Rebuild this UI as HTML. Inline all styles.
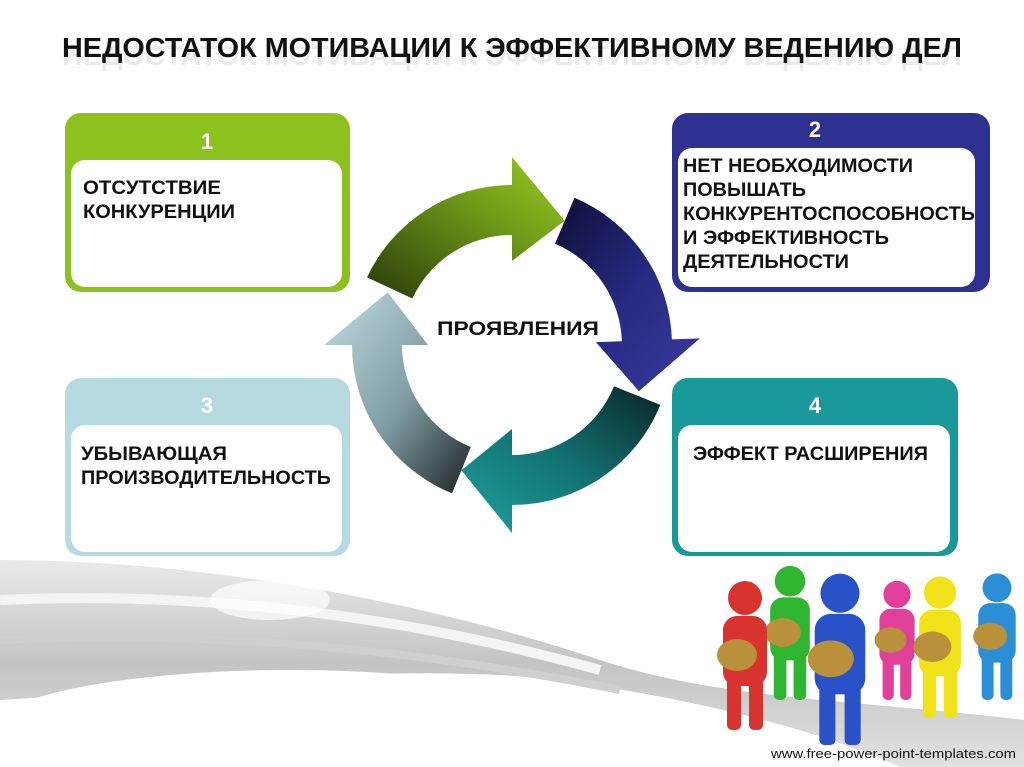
<!DOCTYPE html>
<html><head><meta charset="utf-8"><style>
html,body{margin:0;padding:0;background:#fff;}
svg{display:block;}
text{font-family:"Liberation Sans",sans-serif;font-weight:bold;}
</style></head><body>
<svg id="s" width="1024" height="767" viewBox="0 0 1024 767" xmlns="http://www.w3.org/2000/svg">
<defs>
<linearGradient id="sw" x1="0" y1="0" x2="0" y2="1">
<stop offset="0" stop-color="#e6e6e6"/><stop offset="0.5" stop-color="#b9b9b9"/><stop offset="1" stop-color="#dcdcdc"/></linearGradient>
<linearGradient id="gG" x1="0" y1="1" x2="1" y2="0"><stop offset="0" stop-color="#2a3a0a"/><stop offset="0.6" stop-color="#6e9a18"/><stop offset="1" stop-color="#9ccc22"/></linearGradient>
<linearGradient id="gB" x1="0" y1="0" x2="1" y2="1"><stop offset="0" stop-color="#0d0d35"/><stop offset="0.5" stop-color="#262a80"/><stop offset="1" stop-color="#3a3aa0"/></linearGradient>
<linearGradient id="gT" x1="1" y1="0" x2="0" y2="1"><stop offset="0" stop-color="#0a2424"/><stop offset="0.5" stop-color="#137272"/><stop offset="1" stop-color="#1fa0a0"/></linearGradient>
<linearGradient id="gL" x1="0" y1="0" x2="1" y2="1"><stop offset="0" stop-color="#c2dde2"/><stop offset="0.55" stop-color="#7e9ca2"/><stop offset="1" stop-color="#1d2224"/></linearGradient>
</defs>
<path d="M0,560 C200,560 420,600 600,660 C720,700 860,700 1024,720 L1024,767 L900,767 C820,730 700,700 560,680 C380,660 180,690 0,700 Z" fill="url(#sw)" opacity="0.85"/>
<path d="M0,600 C220,590 420,620 600,670" stroke="#f4f4f4" stroke-width="10" fill="none"/>
<path d="M0,640 C220,630 420,650 620,690" stroke="#cfcfcf" stroke-width="8" fill="none"/>
<ellipse cx="290" cy="730" rx="300" ry="60" fill="#fff"/>
<ellipse cx="270" cy="600" rx="60" ry="20" fill="#fff" opacity="0.7"/>

<text x="62" y="60" font-size="28" textLength="900" lengthAdjust="spacingAndGlyphs" fill="#111" opacity="0.08" transform="translate(0,5)">НЕДОСТАТОК МОТИВАЦИИ К ЭФФЕКТИВНОМУ ВЕДЕНИЮ ДЕЛ</text>
<text x="62" y="57" font-size="28" textLength="900" lengthAdjust="spacingAndGlyphs" fill="#111">НЕДОСТАТОК МОТИВАЦИИ К ЭФФЕКТИВНОМУ ВЕДЕНИЮ ДЕЛ</text>

<g id="arrows"></g>

<rect x="65" y="113" width="285" height="179" rx="16" fill="#8cc21e"/>
<rect x="71" y="160" width="271" height="127" rx="14" fill="#fff"/>
<text x="207" y="149" font-size="22" fill="#fff" text-anchor="middle">1</text>
<text x="83" y="194" font-size="19" fill="#111" textLength="138" lengthAdjust="spacingAndGlyphs">ОТСУТСТВИЕ</text>
<text x="83" y="218" font-size="19" fill="#111" textLength="152" lengthAdjust="spacingAndGlyphs">КОНКУРЕНЦИИ</text>

<rect x="672" y="113" width="318" height="179" rx="16" fill="#2e3192"/>
<rect x="678" y="148" width="297" height="139" rx="14" fill="#fff"/>
<text x="815" y="137" font-size="22" fill="#fff" text-anchor="middle">2</text>
<text x="683" y="172" font-size="19" fill="#111" textLength="230" lengthAdjust="spacingAndGlyphs">НЕТ НЕОБХОДИМОСТИ</text>
<text x="683" y="196" font-size="19" fill="#111" textLength="123" lengthAdjust="spacingAndGlyphs">ПОВЫШАТЬ</text>
<text x="683" y="220" font-size="19" fill="#111" textLength="292" lengthAdjust="spacingAndGlyphs">КОНКУРЕНТОСПОСОБНОСТЬ</text>
<text x="683" y="244" font-size="19" fill="#111" textLength="206" lengthAdjust="spacingAndGlyphs">И ЭФФЕКТИВНОСТЬ</text>
<text x="683" y="268" font-size="19" fill="#111" textLength="166" lengthAdjust="spacingAndGlyphs">ДЕЯТЕЛЬНОСТИ</text>

<rect x="65" y="378" width="285" height="178" rx="16" fill="#b5dbe1"/>
<rect x="71" y="425" width="271" height="127" rx="14" fill="#fff"/>
<text x="207" y="413" font-size="22" fill="#fff" text-anchor="middle">3</text>
<text x="81" y="460" font-size="19" fill="#111" textLength="146" lengthAdjust="spacingAndGlyphs">УБЫВАЮЩАЯ</text>
<text x="81" y="484" font-size="19" fill="#111" textLength="250" lengthAdjust="spacingAndGlyphs">ПРОИЗВОДИТЕЛЬНОСТЬ</text>

<rect x="672" y="378" width="286" height="178" rx="16" fill="#19999a"/>
<rect x="678" y="425" width="272" height="127" rx="14" fill="#fff"/>
<text x="815" y="413" font-size="22" fill="#fff" text-anchor="middle">4</text>
<text x="693" y="460" font-size="19" fill="#111" textLength="235" lengthAdjust="spacingAndGlyphs">ЭФФЕКТ РАСШИРЕНИЯ</text>

<g id="arrows2"></g>
<text x="437" y="335" font-size="19" fill="#111" textLength="162" lengthAdjust="spacingAndGlyphs">ПРОЯВЛЕНИЯ</text>

<g id="ppl"></g>
<text x="1016" y="758" font-size="13" style="font-weight:normal" fill="#111" text-anchor="end" textLength="245" lengthAdjust="spacingAndGlyphs">www.free-power-point-templates.com</text>
</svg>
<script>
var cx=512,cy=345,ri=110,ro=160;
function P(r,a){a=a*Math.PI/180;return (cx+r*Math.cos(a)).toFixed(1)+","+(cy+r*Math.sin(a)).toFixed(1);}
function arrow(a1,a2,tip,fill){
 var d="M"+P(ro,a1)+" A"+ro+","+ro+" 0 0 1 "+P(ro,a2)+" L"+P(ro+28,a2)+" L"+P((ri+ro)/2,tip)+" L"+P(ri-26,a2)+" L"+P(ri,a2)+" A"+ri+","+ri+" 0 0 0 "+P(ri,a1)+" Z";
 return '<path d="'+d+'" fill="url(#'+fill+')"/>';
}
document.getElementById("arrows2").innerHTML=
 arrow(112,180,203,"gL")+arrow(205,270,293,"gG")+arrow(293,358,20,"gB")+arrow(22,90,112,"gT");
var ppl=[[745,"#d8332f",1.0],[790,"#2fb52f",0.9],[840,"#2a52c8",1.15],[897,"#e0409a",0.8],[940,"#f2e21a",0.95],[997,"#2a8fd6",0.85]];
var order=[1,3,5,0,4,2],h="";
order.forEach(function(i){var p=ppl[i],x=p[0],c=p[1],s=p[2];var base=i==2?745:(i==0?730:(i==4?718:700));var top=base-150*s;
 h+='<g fill="'+c+'"><circle cx="'+x+'" cy="'+(top+18*s)+'" r="'+(17*s)+'"/>'+
 '<rect x="'+(x-22*s)+'" y="'+(top+36*s)+'" width="'+(44*s)+'" height="'+(70*s)+'" rx="'+(14*s)+'"/>'+
 '<rect x="'+(x-18*s)+'" y="'+(top+90*s)+'" width="'+(14*s)+'" height="'+(base-top-90*s)+'" rx="5"/>'+
 '<rect x="'+(x+4*s)+'" y="'+(top+90*s)+'" width="'+(14*s)+'" height="'+(base-top-90*s)+'" rx="5"/></g>'+
 '<ellipse cx="'+(x-8*s)+'" cy="'+(top+75*s)+'" rx="'+(20*s)+'" ry="'+(16*s)+'" fill="#b8913a"/>';});
document.getElementById("ppl").innerHTML=h;
</script>
</body></html>
